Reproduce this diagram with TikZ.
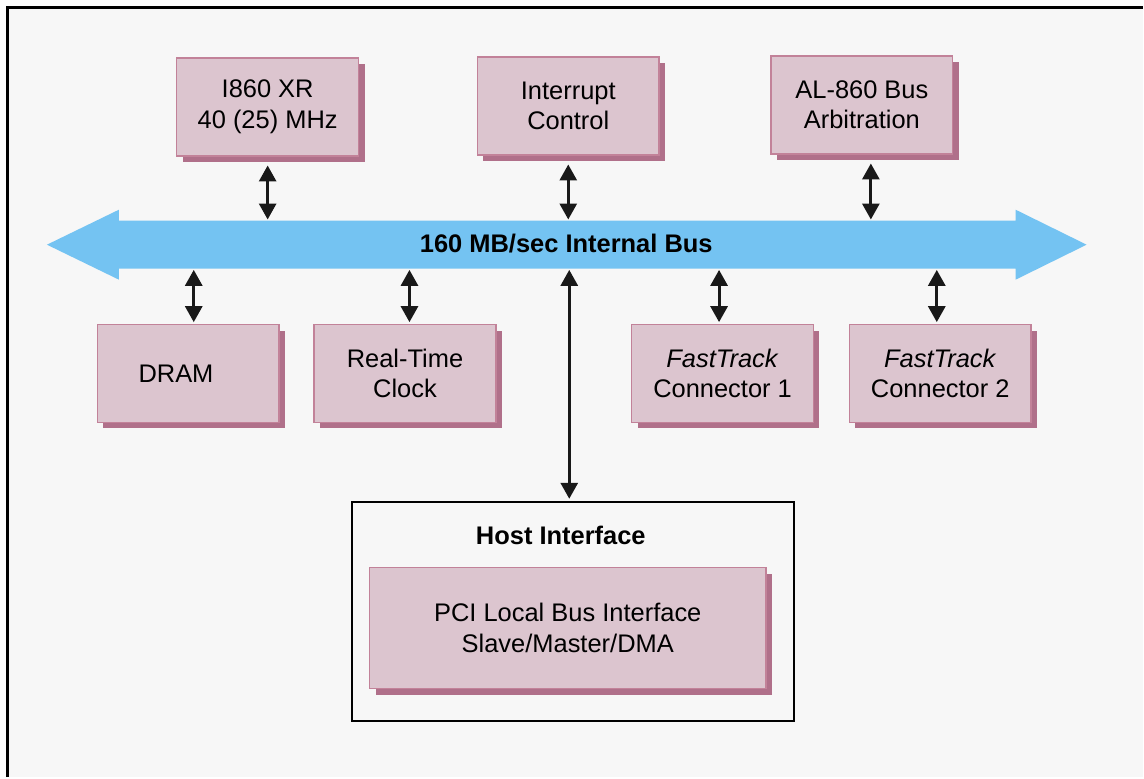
\documentclass[tikz,border=0pt]{standalone}
\usepackage{fontspec}
\setmainfont{Liberation Sans}
\usetikzlibrary{arrows.meta,shadows,positioning}
\definecolor{boxfill}{HTML}{DCC5CF}
\definecolor{boxline}{HTML}{C28299}
\definecolor{boxshadow}{HTML}{B0708A}
\definecolor{buscol}{HTML}{74C3F2}
\definecolor{bgcol}{HTML}{F7F7F7}
\tikzset{
    unit/.style={draw=boxline, fill=boxfill, line width=0.8pt,
        minimum width=3.64cm, minimum height=1.96cm, align=center,
        font=\fontsize{14.5}{17.5}\selectfont,
        drop shadow={fill=boxshadow, opacity=1, shadow xshift=0.12cm, shadow yshift=-0.12cm}},
    link/.style={<->, line width=1.7pt, draw=black!90},
}
\begin{document}
\begin{tikzpicture}[x=0.02cm, y=-0.02cm, >={Triangle[length=3.2mm,width=3.4mm]}]
            % frame
            \fill[white] (0,0) rectangle (1144,778);
            \fill[bgcol] (7.5,7.5) rectangle (1144,778);
            \draw[line width=1.7pt] (7.5,778) -- (7.5,7.5) -- (1144,7.5);
            % internal bus
            \fill[buscol] (47,245) -- (119,210) -- (119,221) -- (1017,221) -- (1017,210)
                -- (1088,245) -- (1017,280) -- (1017,269) -- (119,269) -- (119,280) -- cycle;
            \node[minimum width=18cm, minimum height=0.96cm, inner sep=0pt,
                font=\fontsize{14.5}{16.5}\selectfont\bfseries] (bus) at (567,245) {\raisebox{1.2pt}{160 MB/sec Internal Bus}};
            % units above the bus
            \node[unit] (cpu) at (268,107) {I860 XR\\40 (25) MHz};
            \node[unit] (irq) at (569,106) {Interrupt\\Control};
            \node[unit] (arb) at (863,105) {AL-860 Bus\\Arbitration};
            % units below the bus
            \node[unit] (dram) at (188.5,374) {DRAM\hspace*{14pt}};
            \node[unit] (rtc) at (405.5,374) {Real-Time\\Clock};
            \node[unit] (ft1) at (723.5,374) {\textit{FastTrack}\\Connector 1};
            \node[unit] (ft2) at (941.5,374) {\textit{FastTrack}\\Connector 2};
            % host interface
            \node[draw, line width=1.1pt, minimum width=8.86cm, minimum height=4.38cm] (host) at (573.5,612.5) {};
            \node[font=\fontsize{14.5}{16.5}\selectfont\bfseries] (hosttitle) at (561.5,536) {Host Interface};
            \node[unit, minimum width=7.94cm, minimum height=2.42cm] (pci) at (568.5,629) {PCI Local Bus Interface\\Slave/Master/DMA};
            % connections
            \draw[link, shorten <=0.18cm, shorten >=0.5pt] (cpu.south) -- (cpu.south |- bus.north);
            \draw[link, shorten <=0.18cm, shorten >=0.5pt] (irq.south) -- (irq.south |- bus.north);
            \draw[link, shorten <=0.18cm, shorten >=0.5pt] ([xshift=0.18cm]arb.south) -- ([xshift=0.18cm]arb.south |- bus.north);
            \draw[link, shorten <=0.5pt, shorten >=1pt] ([xshift=0.11cm]dram.north |- bus.south) -- ([xshift=0.11cm]dram.north);
            \draw[link, shorten <=0.5pt, shorten >=1pt] ([xshift=0.09cm]rtc.north |- bus.south) -- ([xshift=0.09cm]rtc.north);
            \draw[link, shorten <=0.5pt, shorten >=1pt] ([xshift=-0.07cm]ft1.north |- bus.south) -- ([xshift=-0.07cm]ft1.north);
            \draw[link, shorten <=0.5pt, shorten >=1pt] ([xshift=-0.07cm]ft2.north |- bus.south) -- ([xshift=-0.07cm]ft2.north);
            \draw[link, shorten <=0.5pt, shorten >=1.5pt] ([xshift=-0.07cm]host.north |- bus.south) -- ([xshift=-0.07cm]host.north);
\end{tikzpicture}
\end{document}
